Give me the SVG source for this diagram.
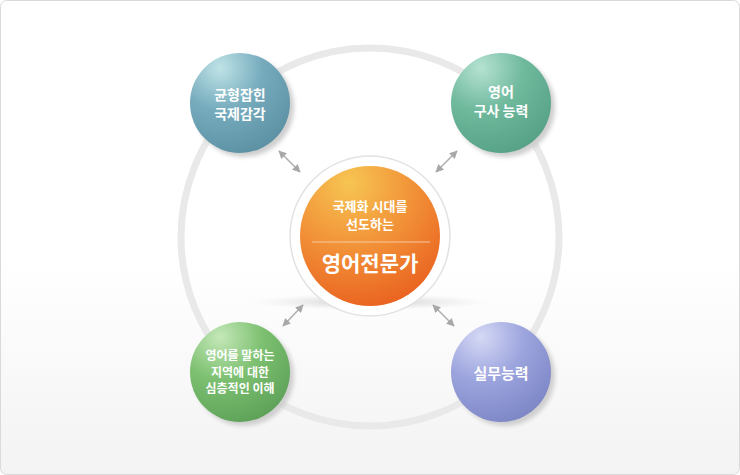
<svg xmlns="http://www.w3.org/2000/svg" width="740" height="475" viewBox="0 0 740 475">
<defs>
<linearGradient id="bg" x1="0" y1="0" x2="0" y2="1">
<stop offset="0" stop-color="#ffffff"/>
<stop offset="0.55" stop-color="#ffffff"/>
<stop offset="1" stop-color="#f3f3f3"/>
</linearGradient>
<radialGradient id="gBlue" cx="0.3" cy="0.15" r="0.95">
<stop offset="0" stop-color="#bfe3e6"/>
<stop offset="0.45" stop-color="#75abbd"/>
<stop offset="1" stop-color="#5a8fa2"/>
</radialGradient>
<radialGradient id="gTeal" cx="0.3" cy="0.15" r="0.95">
<stop offset="0" stop-color="#b5e2d2"/>
<stop offset="0.45" stop-color="#6fb99d"/>
<stop offset="1" stop-color="#54a084"/>
</radialGradient>
<radialGradient id="gGreen" cx="0.3" cy="0.15" r="0.95">
<stop offset="0" stop-color="#c4e8b8"/>
<stop offset="0.45" stop-color="#7dc071"/>
<stop offset="1" stop-color="#5a9f56"/>
</radialGradient>
<radialGradient id="gPurple" cx="0.3" cy="0.15" r="0.95">
<stop offset="0" stop-color="#d5d9f5"/>
<stop offset="0.45" stop-color="#9da5de"/>
<stop offset="1" stop-color="#7a84c4"/>
</radialGradient>
<radialGradient id="gOrange" cx="0.35" cy="0.12" r="1">
<stop offset="0" stop-color="#f7c552"/>
<stop offset="0.5" stop-color="#f18e36"/>
<stop offset="1" stop-color="#e85a1c"/>
</radialGradient>
<radialGradient id="shadowGrad" cx="0.5" cy="0.5" r="0.5">
<stop offset="0" stop-color="#bbbbbb" stop-opacity="0.8"/>
<stop offset="1" stop-color="#dddddd" stop-opacity="0"/>
</radialGradient>
<filter id="blur" x="-20%" y="-20%" width="140%" height="140%">
<feGaussianBlur stdDeviation="2"/>
</filter>
<marker id="ah" viewBox="0 0 10 10" refX="9" refY="5" markerWidth="5" markerHeight="5" orient="auto-start-reverse">
<path d="M0,0 L10,5 L0,10 z" fill="#a8a8a8"/>
</marker>
</defs>
<style>
.lbl{font-family:"Noto Sans CJK KR","Noto Sans",sans-serif;font-weight:bold;fill:#ffffff;text-anchor:middle;}
.conn{stroke:#b0b0b0;stroke-width:1.6;fill:none;marker-start:url(#ah);marker-end:url(#ah);}
.sh{fill:#cfcfcf;filter:url(#blur);}
</style>
<rect x="0.5" y="0.5" width="739" height="474" rx="6" fill="url(#bg)" stroke="#dadada"/>
<circle cx="370" cy="237" r="189" fill="none" stroke="#e9e9e9" stroke-width="7"/>
<ellipse cx="370" cy="302" rx="120" ry="8" fill="url(#shadowGrad)"/>

<g id="connectors">
<line class="conn" x1="279" y1="151" x2="300" y2="172"/>
<line class="conn" x1="457" y1="151" x2="436" y2="172"/>
<line class="conn" x1="303" y1="305" x2="283" y2="326"/>
<line class="conn" x1="433" y1="305" x2="454" y2="326"/>
</g>

<g id="center">
<circle cx="370" cy="236" r="80" fill="#ffffff" stroke="#e2e2e2" stroke-width="1.5"/>
<circle cx="370" cy="236" r="70" fill="url(#gOrange)"/>
<line x1="312" y1="242" x2="430" y2="242" stroke="#f6c9a0" stroke-width="1"/>
<text class="lbl" x="370" y="210.5" font-size="13" font-weight="normal">국제화 시대를</text>
<text class="lbl" x="370" y="228.5" font-size="13" font-weight="normal">선도하는</text>
<text class="lbl" x="370" y="271" font-size="21" font-weight="normal">영어전문가</text>
</g>

<g id="node-tl">
<circle class="sh" cx="244" cy="107" r="50"/>
<circle cx="240" cy="103" r="50" fill="url(#gBlue)"/>
<text class="lbl" x="240" y="100" font-size="14">균형잡힌</text>
<text class="lbl" x="240" y="119" font-size="14">국제감각</text>
</g>

<g id="node-tr">
<circle class="sh" cx="505" cy="107" r="50"/>
<circle cx="501" cy="103" r="50" fill="url(#gTeal)"/>
<text class="lbl" x="501" y="97" font-size="14">영어</text>
<text class="lbl" x="501" y="116" font-size="14">구사 능력</text>
</g>

<g id="node-bl">
<circle class="sh" cx="244" cy="376" r="50"/>
<circle cx="240" cy="372" r="50" fill="url(#gGreen)"/>
<text class="lbl" x="240" y="360" font-size="12">영어를 말하는</text>
<text class="lbl" x="240" y="376.5" font-size="12">지역에 대한</text>
<text class="lbl" x="240" y="393" font-size="12">심층적인 이해</text>
</g>

<g id="node-br">
<circle class="sh" cx="505" cy="376" r="50"/>
<circle cx="501" cy="372" r="50" fill="url(#gPurple)"/>
<text class="lbl" x="501" y="379" font-size="15">실무능력</text>
</g>
</svg>
